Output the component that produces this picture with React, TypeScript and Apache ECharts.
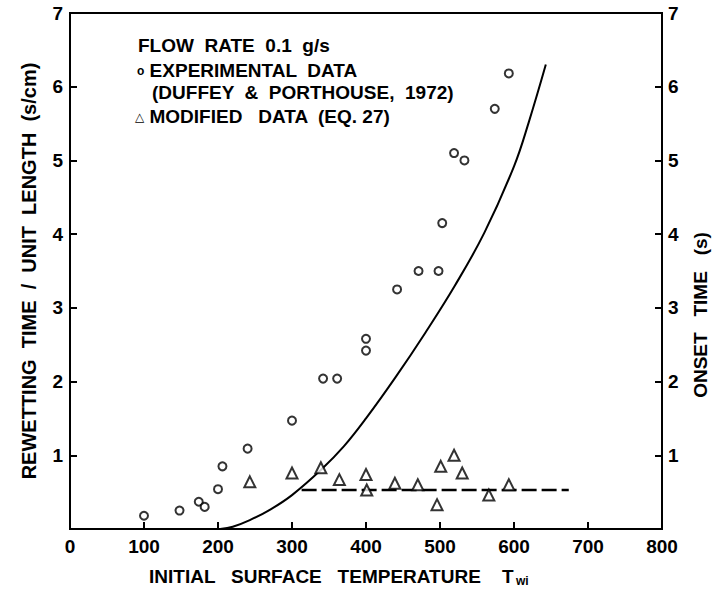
import React, { useEffect, useRef } from "react";
import * as echarts from "echarts";

// Experimental data (Duffey & Porthouse, 1972)
const expT = [100, 148, 174, 182, 200, 206, 240, 300, 342, 361, 400, 400, 442, 471, 498, 503, 519, 533, 574, 593];
const expY = [0.18, 0.25, 0.37, 0.30, 0.54, 0.85, 1.09, 1.47, 2.04, 2.04, 2.42, 2.58, 3.25, 3.50, 3.50, 4.15, 5.10, 5.00, 5.70, 6.18];

// Modified data (Eq. 27)
const modT = [243, 300, 339, 364, 400, 401, 439, 470, 496, 501, 519, 530, 566, 593];
const modY = [0.64, 0.76, 0.83, 0.67, 0.74, 0.53, 0.62, 0.60, 0.33, 0.85, 1.00, 0.76, 0.46, 0.60];

// Solid prediction curve
const curveT = [203, 220, 243, 270, 300, 340, 370, 400, 440, 480, 520, 560, 600, 620, 643];
const curveY = [0.0, 0.03, 0.12, 0.26, 0.46, 0.81, 1.12, 1.50, 2.06, 2.66, 3.30, 4.02, 4.92, 5.52, 6.30];

// Dashed onset-time level
const dashT = [313, 674];
const dashY = [0.53, 0.53];

const xTicks = [0, 100, 200, 300, 400, 500, 600, 700, 800];
const yTicks = [0, 1, 2, 3, 4, 5, 6, 7];

const FONT = "Liberation Sans";

export default function App() {
  const ref = useRef<HTMLDivElement>(null);
  useEffect(() => {
    document.body.style.margin = "0";
    if (!ref.current) return;
    const chart = echarts.init(ref.current, null, { renderer: "svg" });
    const labelStyle = { color: "#000", fontFamily: FONT, fontWeight: "bold" as const, fontSize: 19 };
    const yAxisBase = {
      type: "value" as const,
      min: yTicks[0],
      max: yTicks[yTicks.length - 1],
      interval: 1,
      splitLine: { show: false },
      axisLine: { show: true, lineStyle: { color: "#000", width: 2 } },
      axisTick: { show: true, inside: true, length: 7, lineStyle: { color: "#000", width: 2 } },
    };
    const txt = (size: number) => `bold ${size}px "${FONT}"`;
    chart.setOption({
      animation: false,
      backgroundColor: "#fff",
      grid: { left: 70, right: 52, top: 13, bottom: 73, show: true, borderColor: "#000", borderWidth: 2 },
      xAxis: {
        type: "value",
        min: xTicks[0],
        max: xTicks[xTicks.length - 1],
        interval: 100,
        splitLine: { show: false },
        axisLine: { show: true, onZero: false, lineStyle: { color: "#000", width: 2 } },
        axisTick: { show: true, inside: true, length: 7, lineStyle: { color: "#000", width: 2 } },
        axisLabel: { ...labelStyle, margin: 8 },
      },
      yAxis: [
        {
          ...yAxisBase,
          position: "left",
          name: "REWETTING  TIME  /  UNIT  LENGTH  (s/cm)",
          nameLocation: "middle",
          nameRotate: 90,
          nameGap: 31,
          nameTextStyle: { ...labelStyle, fontSize: 20 },
          axisLabel: { ...labelStyle, margin: 7, formatter: (v: number) => (v === 0 ? "" : String(v)) },
        },
        {
          ...yAxisBase,
          position: "right",
          axisLabel: { ...labelStyle, margin: 6, formatter: (v: number) => (v === 0 ? "" : String(v)) },
        },
      ],
      series: [
        {
          type: "line",
          data: curveT.map((t, i) => [t, curveY[i]]),
          smooth: 0.4,
          showSymbol: false,
          lineStyle: { color: "#000", width: 2 },
          z: 2,
        },
        {
          type: "line",
          data: dashT.map((t, i) => [t, dashY[i]]),
          showSymbol: false,
          lineStyle: { color: "#000", width: 2.5, type: [15, 5] },
          z: 2,
        },
        {
          type: "scatter",
          data: expT.map((t, i) => [t, expY[i]]),
          symbol: "circle",
          symbolSize: 8,
          itemStyle: { color: "#fff", borderColor: "#000", borderWidth: 2 },
          z: 3,
        },
        {
          type: "scatter",
          data: modT.map((t, i) => [t, modY[i]]),
          symbol: "triangle",
          symbolSize: 11,
          itemStyle: { color: "#fff", borderColor: "#000", borderWidth: 2 },
          z: 3,
        },
      ],
      graphic: [
        {
          type: "text",
          x: 700,
          y: 315,
          rotation: Math.PI / 2,
          style: {
            text: "ONSET   TIME   (s)",
            fill: "#000",
            font: txt(19),
            align: "center",
            verticalAlign: "middle",
          },
        },
        {
          type: "text",
          left: 138,
          top: 36,
          style: { text: "FLOW  RATE  0.1  g/s", fill: "#000", font: txt(19) },
        },
        {
          type: "text",
          left: 137,
          top: 61,
          style: {
            text: "{m|o}{t| EXPERIMENTAL  DATA}",
            rich: {
              m: { fill: "#000", fontFamily: FONT, fontWeight: "bold", fontSize: 12, lineHeight: 22 },
              t: { fill: "#000", fontFamily: FONT, fontWeight: "bold", fontSize: 19, lineHeight: 22 },
            },
          },
        },
        {
          type: "text",
          left: 152,
          top: 83,
          style: { text: "(DUFFEY  &  PORTHOUSE,  1972)", fill: "#000", font: txt(19) },
        },
        {
          type: "text",
          left: 135,
          top: 107,
          style: {
            text: "{m|△}{t| MODIFIED   DATA  (EQ. 27)}",
            rich: {
              m: { fill: "#000", fontFamily: "DejaVu Sans", fontWeight: "bold", fontSize: 12, lineHeight: 22 },
              t: { fill: "#000", fontFamily: FONT, fontWeight: "bold", fontSize: 19, lineHeight: 22 },
            },
          },
        },
        {
          type: "text",
          left: 149,
          top: 565,
          style: {
            text: "{a|INITIAL   SURFACE   TEMPERATURE    T}{b|wi}",
            rich: {
              a: { fill: "#000", fontFamily: FONT, fontWeight: "bold", fontSize: 19, lineHeight: 22 },
              b: { fill: "#000", fontFamily: FONT, fontWeight: "bold", fontSize: 12, lineHeight: 22, padding: [10, 0, 0, 2] },
            },
          },
        },
      ],
    });
    return () => chart.dispose();
  }, []);
  return <div ref={ref} style={{ width: 714, height: 602 }} />;
}
